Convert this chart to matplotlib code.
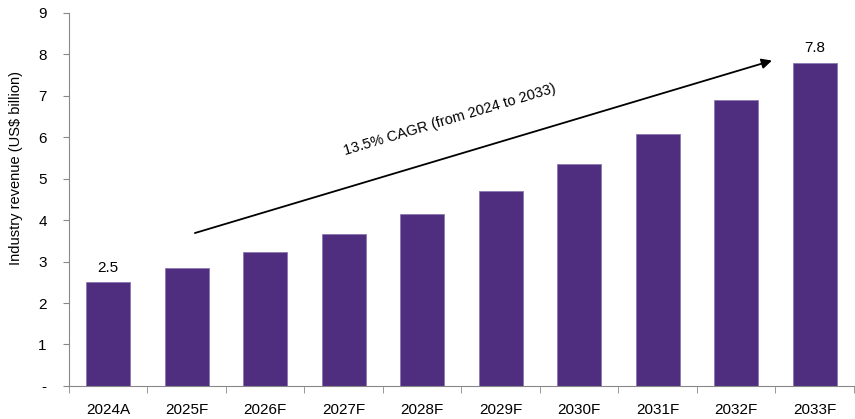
import numpy as np
import matplotlib
matplotlib.use("Agg")
import matplotlib.pyplot as plt

# data
years = ["2024A", "2025F", "2026F", "2027F", "2028F",
         "2029F", "2030F", "2031F", "2032F", "2033F"]
revenue = [2.5, 2.84, 3.22, 3.66, 4.15, 4.71, 5.35, 6.07, 6.89, 7.8]
labelled = {0: "2.5", 9: "7.8"}
cagr_text = "13.5% CAGR (from 2024 to 2033)"

plt.rcParams['font.family'] = ['Liberation Sans Narrow', 'Liberation Sans', 'DejaVu Sans']

fig = plt.figure(figsize=(8.55, 4.19), dpi=100)
ax = fig.add_axes([0.0807, 0.079, 0.918, 0.89])

x = np.arange(len(years))
ax.bar(x, revenue, width=0.56, color="#4F2D7F", edgecolor="#8a78b0", linewidth=0.6)

for i, txt in labelled.items():
    ax.text(x[i], revenue[i] + 0.18, txt, ha="center", va="bottom", fontsize=11)

ax.set_xlim(-0.5, len(years) - 0.5)
ax.set_ylim(0, 9)
ax.set_yticks(range(10))
ax.set_yticklabels(["-"] + [str(v) for v in range(1, 10)], fontsize=11)
ax.set_xticks(x)
ax.set_xticklabels(years, fontsize=11)
ax.set_xticks(np.arange(-0.5, len(years)), minor=True)
ax.tick_params(axis="x", which="major", length=0, pad=12)
ax.tick_params(axis="x", which="minor", length=5, color="#888888")
ax.tick_params(axis="y", length=4, color="#888888", pad=12)
ax.set_ylabel("Industry revenue (US$ billion)", fontsize=10.5)
ax.yaxis.set_label_coords(-0.058, 0.584)

for s in ["top", "right"]:
    ax.spines[s].set_visible(False)
for s in ["left", "bottom"]:
    ax.spines[s].set_color("#888888")

# CAGR arrow
ax.annotate("", xy=(8.49, 7.87), xytext=(1.07, 3.67),
            arrowprops=dict(arrowstyle="-|>", color="black", lw=1.3,
                            mutation_scale=15))
ax.text(4.35, 6.42, cagr_text, rotation=16.6, ha="center", va="center",
        fontsize=10.5, rotation_mode="anchor")

plt.savefig("out.png", dpi=100)
